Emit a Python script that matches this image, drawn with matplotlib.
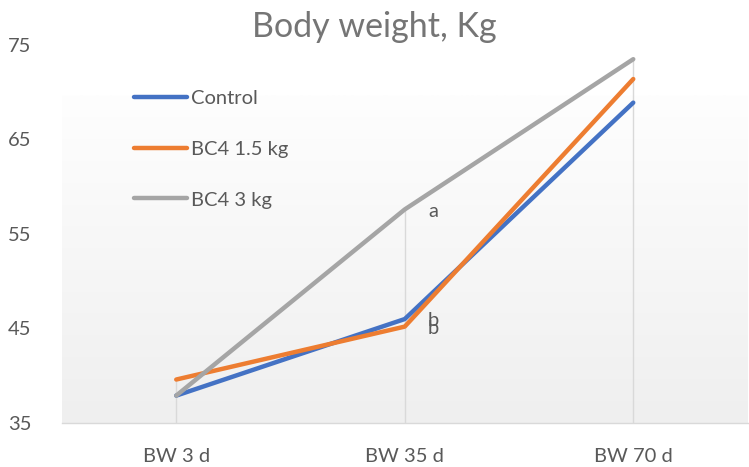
import matplotlib
matplotlib.use("Agg")
import matplotlib.pyplot as plt
import numpy as np
from matplotlib.colors import LinearSegmentedColormap

plt.rcParams['font.family'] = ['Lato', 'DejaVu Sans']

categories = ["BW 3 d", "BW 35 d", "BW 70 d"]
control = [37.9, 46.0, 68.9]
bc4_15 = [39.6, 45.2, 71.4]
bc4_3 = [37.9, 57.6, 73.5]
series_names = ["Control", "BC4 1.5 kg", "BC4 3 kg"]
colors = ["#4472C4", "#ED7D31", "#A5A5A5"]
y_ticks = [35, 45, 55, 65, 75]
letters = [("a", 1, 57.4), ("b", 1, 45.8), ("b", 1, 45.0)]

fig = plt.figure(figsize=(7.49, 4.67), dpi=100)
ax = fig.add_axes([62/749, 1-423/467, (747.5-62)/749, (423-45)/467])

x = np.arange(len(categories))
ax.set_xlim(-0.5, 2.5)
ax.set_ylim(35, 75)

# gradient background
grad_top = 69.7
cmap = LinearSegmentedColormap.from_list("g", ["#efefef", "#fefefe"])
ax.imshow(np.linspace(0, 1, 256).reshape(-1, 1), extent=[-0.5, 2.5, 35, grad_top],
          origin="lower", aspect="auto", cmap=cmap, zorder=0)

# drop lines
all_series = [control, bc4_15, bc4_3]
tops = [max(s[i] for s in all_series) for i in range(len(categories))]
ax.vlines(x, 35, tops, color="#d9d9d9", lw=1, zorder=1)

for vals, name, c in zip(all_series, series_names, colors):
    ax.plot(x, vals, color=c, lw=3.2, solid_capstyle="round", solid_joinstyle="round",
            label=name, zorder=3)

for t, xi, yi in letters:
    ax.text(xi + 0.123, yi, t, fontsize=14.5, color="#595959", ha="center", va="center", zorder=4)

ax.set_xticks(x)
ax.set_xticklabels(categories)
ax.set_yticks(y_ticks)
ax.tick_params(axis="both", length=0, labelsize=14.5, colors="#595959")
ax.tick_params(axis="x", pad=18)
ax.tick_params(axis="y", pad=22)
for s in ["top", "right", "left"]:
    ax.spines[s].set_visible(False)
ax.spines["bottom"].set_color("#d9d9d9")
ax.spines["bottom"].set_linewidth(1)

leg = ax.legend(loc="upper left", bbox_to_anchor=(0.079, 0.93), frameon=False,
                fontsize=14.5, labelspacing=1.68, handlelength=2.6, handletextpad=0.2)
for t in leg.get_texts():
    t.set_color("#595959")

fig.text(0.5, 1-27/467, "Body weight, Kg", ha="center", va="center", fontsize=24.5, color="#757575")

fig.savefig("out.png", dpi=100)
